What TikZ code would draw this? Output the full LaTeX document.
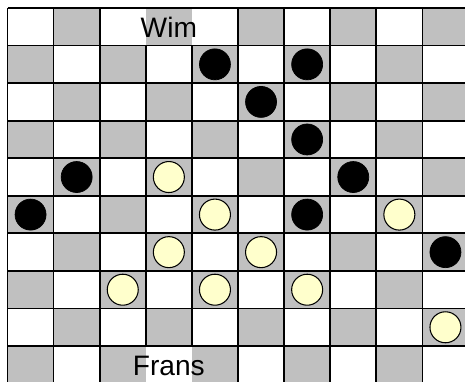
\documentclass[tikz,border=0pt]{standalone}
\usepackage{fontspec}
\setmainfont{Liberation Sans}
\definecolor{BoardGray}{RGB}{192,192,192}
\definecolor{PaleYellow}{RGB}{255,255,204}
\tikzset{
  gridline/.style={line width=1pt,black},
  darkpiece/.style={circle,fill=black,draw=black,minimum size=0.62cm,inner sep=0pt},
  lightpiece/.style={circle,fill=PaleYellow,draw=black,line width=0.6pt,
    minimum size=0.62cm,inner sep=0pt},
  player/.style={font=\fontsize{16}{19}\selectfont,inner sep=0pt,anchor=base}
}

\begin{document}
\begin{tikzpicture}[x=0.922cm,y=-0.7512cm]
      \useasboundingbox (-0.1627,-0.213) rectangle (9.924,9.931);
      \clip (-0.1627,-0.213) rectangle (9.924,9.931);
      % board squares
      \foreach \r in {0,...,9}
        \foreach \c in {0,...,9} {
          \pgfmathtruncatemacro\shade{mod(\r+\c,2)}
          \ifnum\shade=1 \fill[BoardGray] (\c,\r) rectangle ++(1,1); \fi
        }
      % grid lines
      \foreach \r in {0,...,10}
        \draw[gridline] (0,\r) -- (10,\r);
      \foreach \c in {0,...,10}
        \draw[gridline] (\c,1) -- (\c,9);
      \foreach \c in {0,1,2,5,6,7,8,9,10} {
        \draw[gridline] (\c,0) -- (\c,1);
        \draw[gridline] (\c,9) -- (\c,10);
      }
      % players
      \node[player] (wim) at (3.5,0.772) {Wim};
      \node[player] (frans) at (3.5,9.771) {Frans};
      % pieces
      \foreach \r/\c [count=\i] in {1/4,1/6,2/5,3/6,4/1,4/7,5/0,5/6,6/9}
        \node[darkpiece] (dark\i) at (\c+0.5,\r+0.5) {};
      \foreach \r/\c [count=\i] in {4/3,5/4,5/8,6/3,6/5,7/2,7/4,7/6,8/9}
        \node[lightpiece] (light\i) at (\c+0.5,\r+0.5) {};
    \end{tikzpicture}
\end{document}
